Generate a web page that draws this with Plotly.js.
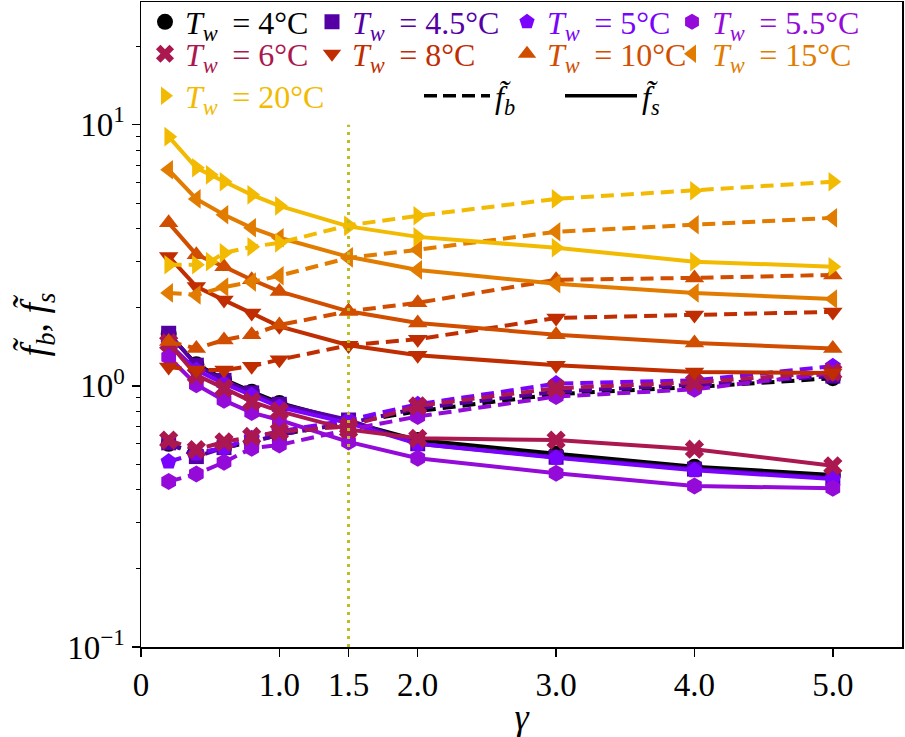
<!DOCTYPE html>
<html><head><meta charset="utf-8">
<script src="https://cdn.plot.ly/plotly-3.0.1.min.js"></script>
<style>html,body{margin:0;padding:0;background:#fff}#chart{width:905px;height:737px}</style>
</head><body><div id="chart"></div>
<script>
// ---------- data ----------
const gammaA = [0.2, 0.4, 0.6, 0.8, 1.0, 1.5, 2.0, 3.0, 4.0, 5.0];
const gammaB = [0.2, 0.4, 0.5, 0.6, 0.8, 1.0, 1.5, 2.0, 3.0, 4.0, 5.0];
const temps = ['4', '4.5', '5', '5.5', '6', '8', '10', '15', '20'];

const fb_4   = [0.60, 0.55, 0.58, 0.61, 0.65, 0.72, 0.80, 0.93, 0.99, 1.07];
const fs_4   = [1.58, 1.21, 1.06, 0.95, 0.86, 0.73, 0.62, 0.55, 0.49, 0.456];
const fb_45  = [0.605, 0.536, 0.58, 0.61, 0.65, 0.72, 0.82, 0.95, 1.01, 1.09];
const fs_45  = [1.59, 1.20, 1.05, 0.94, 0.85, 0.74, 0.60, 0.533, 0.48, 0.443];
const fb_5   = [0.513, 0.55, 0.58, 0.63, 0.67, 0.74, 0.85, 1.02, 1.05, 1.19];
const fs_5   = [1.45, 1.15, 1.02, 0.92, 0.83, 0.72, 0.60, 0.53, 0.475, 0.44];
const fb_55  = [0.43, 0.46, 0.51, 0.577, 0.594, 0.68, 0.763, 0.91, 0.97, 1.12];
const fs_55  = [1.29, 1.01, 0.88, 0.79, 0.74, 0.61, 0.528, 0.463, 0.414, 0.405];
const fb_6   = [0.62, 0.57, 0.61, 0.64, 0.668, 0.70, 0.838, 0.98, 1.03, 1.13];
const fs_6   = [1.46, 1.10, 0.98, 0.87, 0.80, 0.68, 0.63, 0.62, 0.572, 0.494];
const fb_8   = [1.18, 1.15, 1.15, 1.19, 1.26, 1.43, 1.51, 1.82, 1.87, 1.92];
const fs_8   = [3.13, 2.40, 2.13, 1.90, 1.69, 1.43, 1.31, 1.20, 1.13, 1.12];
const fb_10  = [1.48, 1.39, 1.50, 1.57, 1.71, 1.93, 2.08, 2.55, 2.59, 2.66];
const fs_10  = [4.21, 3.18, 2.86, 2.55, 2.30, 1.93, 1.74, 1.57, 1.46, 1.39];
const fb_15  = [2.27, 2.23, 2.39, 2.50, 2.64, 3.09, 3.32, 3.89, 4.14, 4.40];
const fs_15  = [6.72, 5.20, 4.52, 4.03, 3.69, 3.12, 2.78, 2.46, 2.27, 2.15];
const fb_20  = [2.91, 2.91, 2.99, 3.23, 3.41, 3.53, 4.12, 4.48, 5.20, 5.59, 6.05];
const fs_20  = [9.00, 6.84, 6.43, 6.05, 5.39, 4.89, 4.08, 3.72, 3.38, 2.99, 2.86];

const refGammaX = [1.5, 1.5];
const refGammaY = [0.1, 10];

const xTickVals = [0, 1.0, 1.5, 2.0, 3.0, 4.0, 5.0];
const xTickText = ['0', '1.0', '1.5', '2.0', '3.0', '4.0', '5.0'];
const yTickVals = [0.1, 1, 10];
const yTickText = ['10<sup>\u22121</sup>', '10<sup>0</sup>', '10<sup>1</sup>'];

// ---------- styles ----------
const colors  = ['#000000', '#5500A5', '#7903FC', '#940AD9', '#AB174F', '#BF2D00', '#D14E00', '#E27C00', '#F2BA00'];
const symbols = ['circle', 'square', 'pentagon', 'hexagon', 'x', 'triangle-down', 'triangle-up', 'triangle-left', 'triangle-right'];
const sizes   = [16, 15, 17, 17, 17, 17, 17, 17, 17];

const series = [
  {x: gammaA, fb: fb_4,  fs: fs_4},
  {x: gammaA, fb: fb_45, fs: fs_45},
  {x: gammaA, fb: fb_5,  fs: fs_5},
  {x: gammaA, fb: fb_55, fs: fs_55},
  {x: gammaA, fb: fb_6,  fs: fs_6},
  {x: gammaA, fb: fb_8,  fs: fs_8},
  {x: gammaA, fb: fb_10, fs: fs_10},
  {x: gammaA, fb: fb_15, fs: fs_15},
  {x: gammaB, fb: fb_20, fs: fs_20},
];

const FONT = 'Liberation Serif, Times New Roman, serif';
const FS = 33;
const LFS = 32;
const LW = 4;

const traces = [];
series.forEach((s, i) => {
  const mk = {symbol: symbols[i], size: sizes[i], color: colors[i], line: {width: 0}};
  traces.push({x: s.x, y: s.fb, type: 'scatter', mode: 'lines+markers',
    line: {color: colors[i], width: LW, dash: '13px,7px'}, marker: mk, showlegend: false, hoverinfo: 'skip'});
  traces.push({x: s.x, y: s.fs, type: 'scatter', mode: 'lines+markers',
    line: {color: colors[i], width: LW}, marker: mk, showlegend: false, hoverinfo: 'skip'});
});

// reference line at gamma = 1.5
traces.push({x: refGammaX, y: refGammaY, type: 'scatter', mode: 'lines',
  line: {color: '#BCBD22', width: 3, dash: '3px,5px'}, showlegend: false, hoverinfo: 'skip'});

// legend cells: marker centre in px
const colPx = [166, 333, 528, 693];
const rowPx = [22, 54, 96];
const cellOf = [[0,0],[0,1],[0,2],[0,3],[1,0],[1,1],[1,2],[1,3],[2,0]];

const plotL = 141, plotW = 761, plotT = 2, plotH = 645;
const px2x = p => (p - plotL) / plotW;
const py2y = p => 1 - (p - plotT) / plotH;

const layout = {
  width: 905, height: 737,
  margin: {l: plotL, r: 905 - plotL - plotW, t: plotT, b: 737 - plotT - plotH, autoexpand: false},
  paper_bgcolor: '#fff', plot_bgcolor: '#fff',
  font: {family: FONT, size: FS, color: '#000'},
  xaxis: {
    range: [0, 5.5], tickmode: 'array', tickvals: xTickVals, ticktext: xTickText,
    showgrid: false, zeroline: false, showline: true, mirror: true, linecolor: '#000', linewidth: 1.5,
    ticks: 'outside', ticklen: 8, tickwidth: 1.5, tickcolor: '#000',
    tickfont: {family: FONT, size: FS},
    title: {text: '<i>\u03B3</i>', font: {family: FONT, size: 36}, standoff: 6}
  },
  yaxis: {
    type: 'log', range: [-1, 1.47], tickmode: 'array', tickvals: yTickVals, ticktext: yTickText,
    showgrid: false, zeroline: false, showline: true, mirror: true, linecolor: '#000', linewidth: 1.5,
    ticks: 'outside', ticklen: 8, tickwidth: 1.5, tickcolor: '#000',
    minor: {ticks: 'outside', ticklen: 4, tickwidth: 1, tickcolor: '#000', dtick: 'D1', showgrid: false},
    tickfont: {family: FONT, size: FS},
    title: {text: '<i>f\u0303</i><sub><i>b</i></sub>, <i>f\u0303</i><sub><i>s</i></sub>', font: {family: FONT, size: 38}, standoff: 8}
  },
  showlegend: true
};

const legendBase = {xanchor: 'left', yanchor: 'middle', bgcolor: 'rgba(0,0,0,0)', borderwidth: 0,
  font: {family: FONT, size: LFS}, orientation: 'v', tracegroupgap: 0};

temps.forEach((t, i) => {
  const key = i === 0 ? 'legend' : 'legend' + (i + 1);
  const [r, c] = cellOf[i];
  layout[key] = Object.assign({}, legendBase, {x: px2x(colPx[c] - 21), y: py2y(rowPx[r])});
  traces.push({x: [null], y: [null], type: 'scatter', mode: 'markers', legend: key,
    name: '<span style="color:' + colors[i] + '"><i>T</i><sub><i>w</i></sub>\u2009 = ' + t + '\u00B0C</span>',
    marker: {symbol: symbols[i], size: sizes[i], color: colors[i], line: {width: 0}}, showlegend: true});
});

layout.legend10 = Object.assign({}, legendBase, {x: px2x(419), y: py2y(rowPx[2]), itemwidth: 66});
layout.legend11 = Object.assign({}, legendBase, {x: px2x(560), y: py2y(rowPx[2]), itemwidth: 72});
traces.push({x: [null], y: [null], type: 'scatter', mode: 'lines', legend: 'legend10',
  name: '<i>f\u0303</i><sub><i>b</i></sub>', line: {color: '#000', width: 3.5, dash: '13px,6px'}, showlegend: true});
traces.push({x: [null], y: [null], type: 'scatter', mode: 'lines', legend: 'legend11',
  name: '<i>f\u0303</i><sub><i>s</i></sub>', line: {color: '#000', width: 3.5}, showlegend: true});

Plotly.newPlot('chart', traces, layout, {displayModeBar: false, staticPlot: true});
</script></body></html>
